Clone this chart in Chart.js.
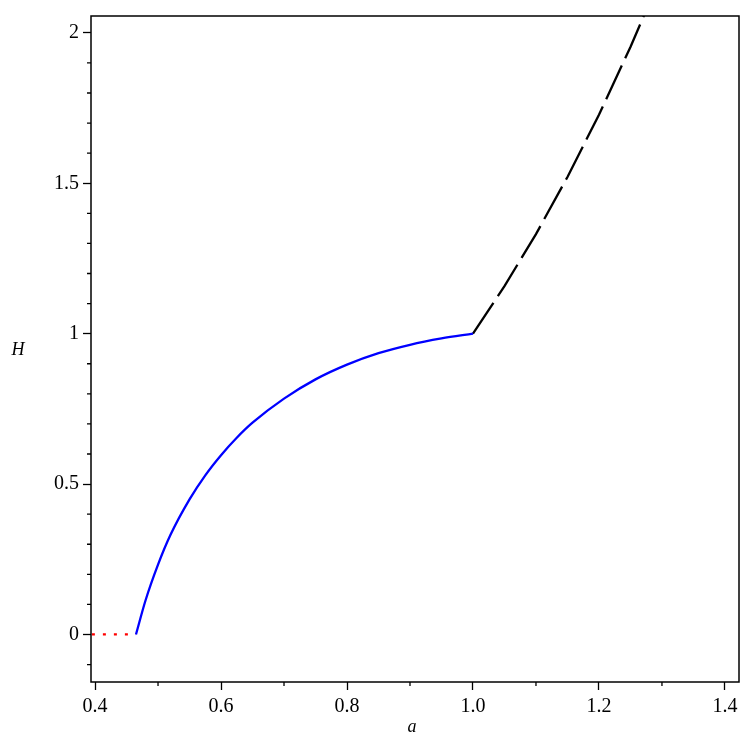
<!DOCTYPE html>
<html>
<head>
<meta charset="utf-8">
<script src="https://cdn.jsdelivr.net/npm/chart.js@4.4.1/dist/chart.umd.min.js"></script>
<style>
    html, body { margin: 0; padding: 0; background: #fff; }
    #wrap { width: 747px; height: 747px; }
</style>
</head>
<body>
<div id="wrap"><canvas id="plot"></canvas></div>
<script>
// Values
const redA = [0.395, 0.465];
const redH = [0, 0];

const blueA = [0.465, 0.48, 0.50, 0.52, 0.55, 0.575, 0.60, 0.625, 0.65, 0.70, 0.75, 0.80, 0.85, 0.90, 0.95, 1.00];
const blueH = [0, 0.112, 0.232, 0.332, 0.449, 0.529, 0.596, 0.654, 0.704, 0.784, 0.848, 0.897, 0.935, 0.963, 0.984, 1.0];

const blackA = [1.0, 1.05, 1.10, 1.15, 1.20, 1.25, 1.30];
const blackH = [1.0, 1.158, 1.331, 1.521, 1.728, 1.953, 2.197];

// Tick values
const xMajor = [0.4, 0.6, 0.8, 1.0, 1.2, 1.4];
const xMinor = [0.5, 0.7, 0.9, 1.1, 1.3];
const yMajor = [0, 0.5, 1, 1.5, 2];
const yMinor = [-0.1, 0.1, 0.2, 0.3, 0.4, 0.6, 0.7, 0.8, 0.9, 1.1, 1.2, 1.3, 1.4, 1.6, 1.7, 1.8, 1.9];

const toPoints = (xs, ys) => xs.map((x, i) => ({ x: x, y: ys[i] }));

// Box round the plot area, short minor ticks and axis names
const framePlugin = {
    id: "frame",
    afterDraw(chart) {
        const ctx = chart.ctx;
        const area = chart.chartArea;
        const xs = chart.scales.x;
        const ys = chart.scales.y;
        ctx.save();
        ctx.strokeStyle = "#000";
        ctx.lineWidth = 1.5;
        ctx.strokeRect(area.left, area.top, area.right - area.left, area.bottom - area.top);

        ctx.lineWidth = 1.3;
        ctx.beginPath();
        xMinor.forEach(v => {
            const px = xs.getPixelForValue(v);
            ctx.moveTo(px, area.bottom);
            ctx.lineTo(px, area.bottom + 4);
        });
        yMinor.forEach(v => {
            const py = ys.getPixelForValue(v);
            ctx.moveTo(area.left, py);
            ctx.lineTo(area.left - 4, py);
        });
        ctx.stroke();

        ctx.fillStyle = "#000";
        ctx.font = "italic 18px 'Liberation Serif'";
        ctx.textAlign = "center";
        ctx.textBaseline = "middle";
        ctx.fillText("H", 18, 350);
        ctx.fillText("a", 412, 727);
        ctx.restore();
    }
};

new Chart(document.getElementById("plot"), {
    type: "line",
    data: {
        datasets: [
            {
                data: toPoints(redA, redH),
                borderColor: "#ff0000",
                borderWidth: 2.3,
                borderDash: [3, 8],
                pointRadius: 0
            },
            {
                data: toPoints(blueA, blueH),
                borderColor: "#0000ff",
                borderWidth: 2.3,
                cubicInterpolationMode: "monotone",
                pointRadius: 0
            },
            {
                data: toPoints(blackA, blackH),
                borderColor: "#000000",
                borderWidth: 2.3,
                borderDash: [37, 8],
                pointRadius: 0
            }
        ]
    },
    options: {
        responsive: true,
        maintainAspectRatio: false,
        animation: false,
        layout: { padding: { left: 0, top: 9, right: 8, bottom: 0 } },
        plugins: {
            legend: { display: false },
            tooltip: { enabled: false }
        },
        scales: {
            x: {
                type: "linear",
                min: 0.3936,
                max: 1.4223,
                afterBuildTicks(scale) {
                    scale.ticks = xMajor.map(v => ({ value: v }));
                },
                afterFit(scale) { scale.height = 65; },
                ticks: {
                    autoSkip: false,
                    maxRotation: 0,
                    padding: 5,
                    color: "#000",
                    font: { family: "'Liberation Serif'", size: 20 },
                    callback: v => v.toFixed(1)
                },
                grid: {
                    drawOnChartArea: false,
                    tickLength: 8,
                    tickWidth: 1.3,
                    tickColor: "#000"
                },
                border: { display: false }
            },
            y: {
                type: "linear",
                min: -0.158,
                max: 2.056,
                afterBuildTicks(scale) {
                    scale.ticks = yMajor.map(v => ({ value: v }));
                },
                afterFit(scale) { scale.width = 91; },
                ticks: {
                    autoSkip: false,
                    padding: 4,
                    color: "#000",
                    font: { family: "'Liberation Serif'", size: 20 },
                    callback: v => String(v)
                },
                grid: {
                    drawOnChartArea: false,
                    tickLength: 8,
                    tickWidth: 1.3,
                    tickColor: "#000"
                },
                border: { display: false }
            }
        }
    },
    plugins: [framePlugin]
});
</script>
</body>
</html>
